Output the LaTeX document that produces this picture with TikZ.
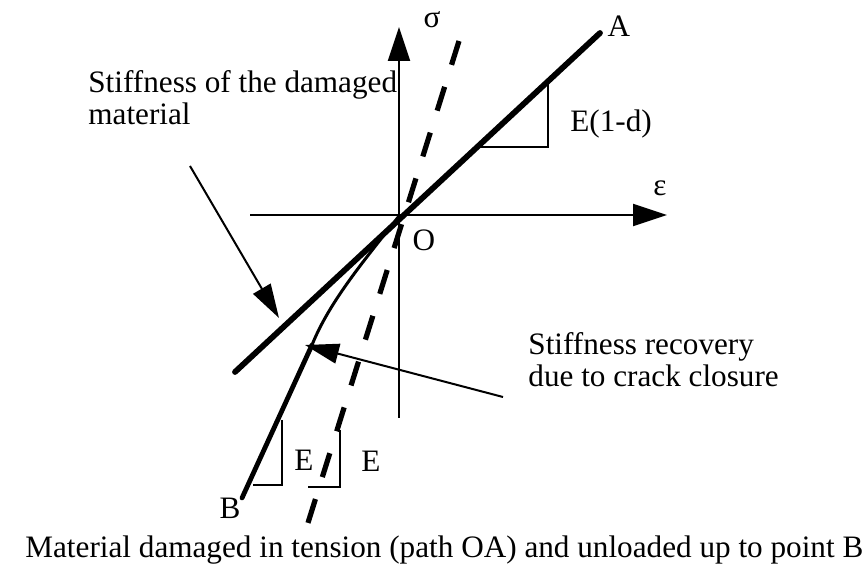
\documentclass[tikz,border=0pt]{standalone}
\usepackage{fontspec}
\setmainfont{Liberation Serif}
\usetikzlibrary{arrows.meta}

\begin{document}
\begin{tikzpicture}[
  x=0.5pt, y=-0.5pt,
  axis/.style={line width=1pt, -{Triangle[length=17pt,width=11pt]}},
  damaged/.style={line width=2.9pt, line cap=round},
  elastic/.style={line width=2.6pt, dash pattern=on 12.5pt off 11.5pt},
  slope/.style={line width=1pt},
  pointer/.style={line width=1pt, -{Triangle[length=17pt,width=10pt]}},
  lbl/.style={font=\fontsize{15.6}{16}\selectfont, inner sep=0pt},
  note/.style={lbl, align=left, anchor=base west}
]
\useasboundingbox (0,0) rectangle (863,571);

% axes
\coordinate (O) at (399,216);
\coordinate (xleft) at (250,215);
\coordinate (xright) at (667,215);
\coordinate (ybottom) at (399,418);
\coordinate (ytop) at (399,27);
\draw[axis] (xleft) -- (xright);
\draw[axis] (ybottom) -- (ytop);
\node[lbl] (sig) at (432,20) {σ};
\node[lbl] (eps) at (660,188) {ε};
\node[lbl] (olbl) at (424,240) {O};

% elastic (undamaged) slope
\coordinate (etop) at (459,41);
\coordinate (ebot) at (307,526);
\draw[elastic] (etop) -- (ebot);

% damaged slope through O up to A
\coordinate (A) at (600,33);
\coordinate (dlow) at (235,372);
\draw[damaged] (dlow) -- (A);
\node[lbl] (albl) at (619,26) {A};

% unloading path O -> B
\coordinate (bend) at (312,345);
\coordinate (B) at (242,498);
\draw[line width=1.5pt] (O) .. controls (368,256) and (330,300) .. (bend);
\draw[damaged, line width=2.4pt] (bend) -- (B);
\node[lbl] (blbl) at (230,508) {B};

% slope triangles
\draw[slope] (548,81) |- (477,147);
\node[lbl, anchor=base west] (edlbl) at (570,132) {E(1-d)};
\draw[slope] (282,420) |- (253,485);
\node[lbl] (e1lbl) at (304,460) {E};
\draw[slope] (340,430) |- (308,487);
\node[lbl] (e2lbl) at (371,461) {E};

% annotations
\node[note] (dmg) at (88,125) {Stiffness of the damaged\\material};
\coordinate (dmgtip) at (279,318);
\draw[pointer] (190,166) -- (dmgtip);
\node[note] (rec) at (528,387) {Stiffness recovery\\due to crack closure};
\coordinate (rectip) at (305,345);
\draw[pointer] (503,397) -- (rectip);

\node[note] (caption) at (25,558) {Material damaged in tension (path OA) and unloaded up to point B};
\end{tikzpicture}
\end{document}
